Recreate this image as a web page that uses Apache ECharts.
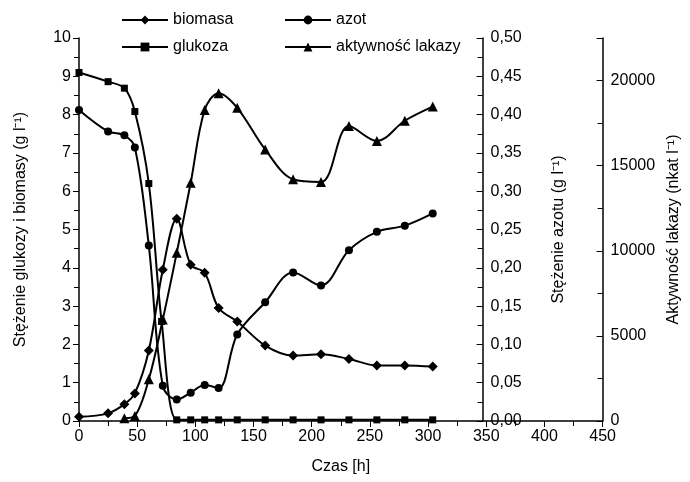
<!DOCTYPE html>
<html>
<head>
<meta charset="UTF-8">
<title>biomasa, glukoza, azot, lakaza</title>
<script src="https://cdn.jsdelivr.net/npm/echarts@6/dist/echarts.min.js"></script>
<style>
  html, body { margin: 0; padding: 0; background: #fff; }
  #chart { width: 690px; height: 482px; }
</style>
</head>
<body>
<div id="chart"></div>
<script>
// dane
var tBiomasa = [0, 25, 39, 48, 60, 72, 84, 96, 108, 120, 136, 160, 184, 208, 232, 256, 280, 304];
var biomasa  = [0.11, 0.2, 0.44, 0.72, 1.84, 3.95, 5.28, 4.08, 3.87, 2.95, 2.6, 1.97, 1.71, 1.74, 1.62, 1.45, 1.45, 1.42];

var tGlukoza = [0, 25, 39, 48, 60, 71, 84, 96, 108, 120, 136, 160, 184, 208, 232, 256, 280, 304];
var glukoza  = [9.1, 8.86, 8.69, 8.08, 6.2, 2.6, 0.03, 0.03, 0.03, 0.03, 0.03, 0.03, 0.03, 0.03, 0.03, 0.03, 0.03, 0.03];

var tAzot = [0, 25, 39, 48, 60, 72, 84, 96, 108, 120, 136, 160, 184, 208, 232, 256, 280, 304];
var azot  = [0.406, 0.378, 0.373, 0.357, 0.229, 0.046, 0.028, 0.037, 0.047, 0.043, 0.113, 0.155, 0.194, 0.177, 0.223, 0.247, 0.255, 0.271];

var tLakaza = [39, 48, 60, 72, 84, 96, 108, 120, 136, 160, 184, 208, 232, 256, 280, 304];
var lakaza  = [160, 300, 2450, 5960, 9880, 14000, 18270, 19260, 18400, 15950, 14200, 14040, 17330, 16450, 17640, 18470];

var font = '"Liberation Sans", Arial, sans-serif';

function pairs(t, v) {
  return t.map(function (x, i) { return [x, v[i]]; });
}

var axisLine = { show: true, lineStyle: { color: '#000', width: 1.5 } };
var label = { color: '#000', fontSize: 16, fontFamily: font };
var nameStyle = { color: '#000', fontSize: 16, fontFamily: font };

var chart = echarts.init(document.getElementById('chart'));

function serie(name, data, symbol, size, yIdx) {
  return {
    name: name,
    type: 'line',
    yAxisIndex: yIdx,
    data: data,
    smooth: 0.35,
    symbol: symbol,
    symbolSize: size,
    lineStyle: { color: '#000', width: 2 },
    itemStyle: { color: '#000' },
    z: 3
  };
}

var option = {
  animation: false,
  backgroundColor: '#fff',
  textStyle: { fontFamily: font },
  grid: { left: 79, right: 70, top: 38, bottom: 61 },
  legend: [{
    data: ['biomasa', 'glukoza'],
    orient: 'vertical',
    left: 116, top: 7,
    itemWidth: 46, itemHeight: 11, itemGap: 11,
    textStyle: { color: '#000', fontSize: 16, fontFamily: font }
  }, {
    data: ['azot', 'aktywność lakazy'],
    orient: 'vertical',
    left: 279, top: 7,
    itemWidth: 46, itemHeight: 11, itemGap: 11,
    textStyle: { color: '#000', fontSize: 16, fontFamily: font }
  }],
  xAxis: {
    type: 'value',
    min: 0, max: 450, interval: 50,
    name: 'Czas [h]',
    nameLocation: 'middle',
    nameGap: 38,
    nameTextStyle: nameStyle,
    axisLine: axisLine,
    axisTick: { show: true, length: 6, lineStyle: { color: '#000' } },
    minorTick: { show: true, splitNumber: 2, length: 5, lineStyle: { color: '#000' } },
    axisLabel: label,
    splitLine: { show: false }
  },
  yAxis: [{
    type: 'value',
    position: 'left',
    min: 0, max: 10, interval: 1,
    name: 'Stężenie glukozy i biomasy (g l⁻¹)',
    nameLocation: 'middle',
    nameRotate: 90,
    nameGap: 50,
    nameTextStyle: nameStyle,
    axisLine: axisLine,
    axisTick: { show: true, length: 6, lineStyle: { color: '#000' } },
    minorTick: { show: true, splitNumber: 2, length: 5, lineStyle: { color: '#000' } },
    axisLabel: label,
    splitLine: { show: false }
  }, {
    type: 'value',
    position: 'right',
    offset: -120,
    min: 0, max: 0.5, interval: 0.05,
    name: 'Stężenie azotu (g l⁻¹)',
    nameLocation: 'middle',
    nameRotate: 90,
    nameGap: 68,
    nameTextStyle: nameStyle,
    axisLine: axisLine,
    axisTick: { show: true, inside: true, length: 6, lineStyle: { color: '#000' } },
    minorTick: { show: true, splitNumber: 2, length: 5, lineStyle: { color: '#000' } },
    axisLabel: Object.assign({}, label, {
      formatter: function (v) { return v.toFixed(2).replace('.', ','); }
    }),
    splitLine: { show: false }
  }, {
    type: 'value',
    position: 'right',
    min: 0, max: 22500, interval: 5000,
    name: 'Aktywność lakazy (nkat l⁻¹)',
    nameLocation: 'middle',
    nameRotate: 90,
    nameGap: 44,
    nameTextStyle: nameStyle,
    axisLine: axisLine,
    axisTick: { show: true, inside: true, length: 6, lineStyle: { color: '#000' } },
    minorTick: { show: true, splitNumber: 2, length: 5, lineStyle: { color: '#000' } },
    axisLabel: Object.assign({}, label, {
      showMaxLabel: false,
      formatter: function (v) { return String(v); }
    }),
    splitLine: { show: false }
  }],
  series: [
    serie('biomasa', pairs(tBiomasa, biomasa), 'diamond', 10, 0),
    serie('glukoza', pairs(tGlukoza, glukoza), 'rect', 7, 0),
    serie('azot', pairs(tAzot, azot), 'circle', 8, 1),
    serie('aktywność lakazy', pairs(tLakaza, lakaza), 'triangle', 10, 2)
  ]
};

chart.setOption(option);
</script>
</body>
</html>
